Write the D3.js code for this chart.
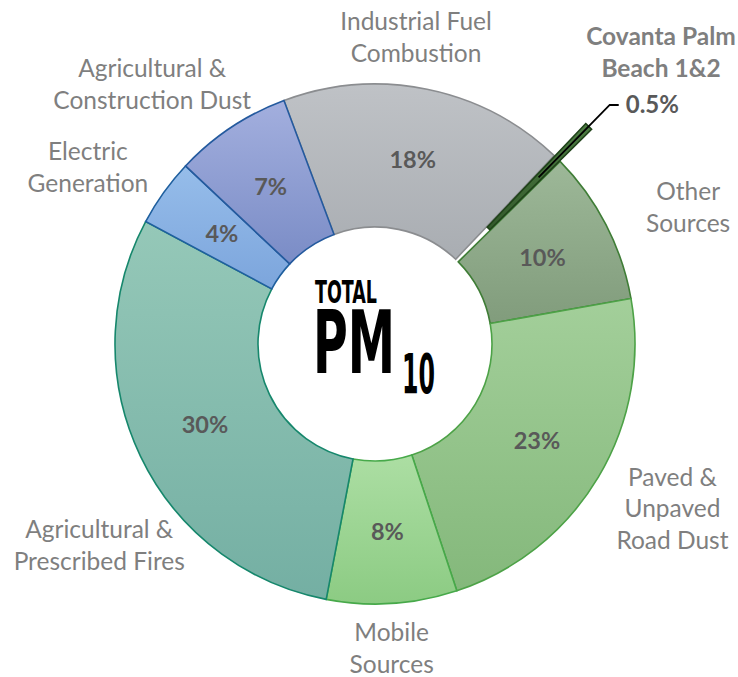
<!DOCTYPE html>
<html>
<head>
<meta charset="utf-8">
<script src="https://cdn.jsdelivr.net/npm/d3@7"></script>
<style>
  body { margin: 0; background: #fff; }
  svg { display: block; }
</style>
</head>
<body>
<script>
// PM10 source shares (percent), clockwise from the Industrial slice
const categories = ["Industrial Fuel Combustion", "Covanta Palm Beach 1&2", "Other Sources",
    "Paved & Unpaved Road Dust", "Mobile Sources", "Agricultural & Prescribed Fires",
    "Electric Generation", "Agricultural & Construction Dust"];
const labelLines = [["Industrial Fuel", "Combustion"], ["Covanta Palm", "Beach 1&2"], ["Other", "Sources"],
    ["Paved &", "Unpaved", "Road Dust"], ["Mobile", "Sources"], ["Agricultural &", "Prescribed Fires"],
    ["Electric", "Generation"], ["Agricultural &", "Construction Dust"]];
const values = [17.8, 0.5, 9.6, 22.7, 8.1, 29.8, 4.2, 7.3];
const valueLabels = ["18%", "0.5%", "10%", "23%", "8%", "30%", "4%", "7%"];

// styling
const topColors = ["#bfc2c6", "#4d7d43", "#9db898", "#a3cf9a", "#acdea3", "#95c8b8", "#96bdea", "#a3afde"];
const bottomColors = ["#a9adb2", "#33592b", "#819c7c", "#84b87b", "#8ccb83", "#74afa3", "#7ca5dc", "#7a8cc6"];
const strokeColors = ["#8b8d90", "#1f4219", "#3f7d36", "#4da247", "#47a94a", "#16876c", "#1f5f9e", "#245a9e"];
const labelNudge = [[-25, 17], [0, 0], [20, 15], [14, -4], [-5, -25], [22, 59], [-19, 16], [-40, 15]];

const width = 738, height = 677;
const cx = 375, cy = 344;
const outerR = 260, innerR = 117;
const explode = 45;
const labelR = 330;
const lineGap = 31.5;
const labelFont = "Lato, 'Open Sans', sans-serif";

const svg = d3.select("body").append("svg")
    .attr("width", width)
    .attr("height", height);

const defs = svg.append("defs");
values.forEach((v, i) => {
    const g = defs.append("linearGradient")
        .attr("id", "grad" + i)
        .attr("x1", 0).attr("y1", 0).attr("x2", 0).attr("y2", 1);
    g.append("stop").attr("offset", "0%").attr("stop-color", topColors[i]);
    g.append("stop").attr("offset", "100%").attr("stop-color", bottomColors[i]);
});

const startA = -20.5 * Math.PI / 180;
const pie = d3.pie().sort(null).value(d => d)
    .startAngle(startA).endAngle(startA + 2 * Math.PI);
const arcs = pie(values);

const arc = d3.arc().innerRadius(innerR).outerRadius(outerR);
const polar = (r, a) => [r * Math.sin(a), -r * Math.cos(a)];

const chart = svg.append("g").attr("transform", `translate(${cx},${cy})`);

// slices, Covanta one pulled out
const slices = chart.selectAll(".slice")
    .data(arcs)
    .enter()
    .append("path")
    .attr("class", "slice")
    .attr("d", arc)
    .attr("fill", (d, i) => `url(#grad${i})`)
    .attr("stroke", (d, i) => strokeColors[i])
    .attr("stroke-width", 1.6)
    .attr("transform", (d, i) => {
        if (i !== 1) return null;
        const m = (d.startAngle + d.endAngle) / 2;
        const p = polar(explode, m);
        return `translate(${p[0]},${p[1]})`;
    });
// draw the thin slice on top
slices.filter((d, i) => i === 1).raise();

// percentage labels inside the ring
chart.selectAll(".pct")
    .data(arcs.filter((d, i) => i !== 1))
    .enter()
    .append("text")
    .attr("class", "pct")
    .attr("x", d => arc.centroid(d)[0])
    .attr("y", d => arc.centroid(d)[1])
    .attr("dy", "0.35em")
    .attr("text-anchor", "middle")
    .style("font-family", labelFont)
    .style("font-weight", "bold")
    .style("font-size", "23.5px")
    .style("fill", "#595959")
    .text(d => valueLabels[d.index]);

// category labels outside the ring
arcs.forEach((d, i) => {
    if (i === 1) return;
    const m = (d.startAngle + d.endAngle) / 2;
    const p = polar(labelR, m);
    const x = p[0] + labelNudge[i][0];
    const y = p[1] + labelNudge[i][1];
    const lines = labelLines[i];
    const t = chart.append("text")
        .attr("text-anchor", "middle")
        .style("font-family", labelFont)
        .style("font-size", "24.5px")
        .style("fill", "#7f7f7f");
    lines.forEach((s, k) => {
        t.append("tspan")
            .attr("x", x)
            .attr("y", y - (lines.length - 1) * lineGap / 2 + k * lineGap + 8.5)
            .text(s);
    });
});

// Covanta callout
const cov = arcs[1];
const covMid = (cov.startAngle + cov.endAngle) / 2;
const c0 = polar((innerR + outerR) / 2 + explode, covMid);
const c1 = polar(335, covMid);
const c2 = [c1[0] + 9, c1[1]];
chart.append("path")
    .attr("d", `M${c0[0]},${c0[1]}L${c1[0]},${c1[1]}L${c2[0]},${c2[1]}`)
    .attr("fill", "none")
    .attr("stroke", "#000")
    .attr("stroke-width", 1.8);
chart.append("text")
    .attr("x", c2[0] + 7)
    .attr("y", c2[1])
    .attr("dy", "0.35em")
    .style("font-family", labelFont)
    .style("font-weight", "bold")
    .style("font-size", "24px")
    .style("fill", "#595959")
    .text(valueLabels[1]);
const covText = chart.append("text")
    .attr("text-anchor", "middle")
    .style("font-family", labelFont)
    .style("font-weight", "bold")
    .style("font-size", "24.5px")
    .style("fill", "#7f7f7f");
labelLines[1].forEach((s, k) => {
    covText.append("tspan")
        .attr("x", 661 - cx)
        .attr("y", 45 - cy + k * 32)
        .text(s);
});

// center title
const title = chart.append("g")
    .style("font-family", "'Liberation Sans Narrow', 'DejaVu Sans Condensed', sans-serif")
    .style("font-weight", "bold")
    .style("fill", "#000");
title.append("text")
    .attr("x", -60).attr("y", -41)
    .attr("textLength", 62).attr("lengthAdjust", "spacingAndGlyphs")
    .style("font-size", "32px")
    .text("TOTAL");
title.append("text")
    .attr("x", -62).attr("y", 29)
    .attr("textLength", 82).attr("lengthAdjust", "spacingAndGlyphs")
    .style("font-size", "88px")
    .text("PM");
title.append("text")
    .attr("x", 27).attr("y", 49)
    .attr("textLength", 33).attr("lengthAdjust", "spacingAndGlyphs")
    .style("font-size", "56px")
    .text("10");
</script>
</body>
</html>
